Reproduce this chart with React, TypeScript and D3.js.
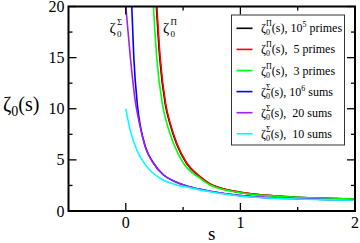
import React from "react";
import * as d3 from "d3";

// ---- data ----
// zeta_0^Pi(s), 10^5 primes (black, mostly hidden under red)
const blackS = [0.267, 0.296, 0.345, 0.386, 0.441, 0.529, 0.645, 0.733, 1.0, 1.29, 1.49, 1.73, 2.0];
const blackV = [20, 15.0, 10.4, 8.5, 6.63, 4.67, 3.36, 2.65, 1.82, 1.49, 1.35, 1.25, 1.18];

// zeta_0^Pi(s), 5 primes (red)
const redS = [0.271, 0.300, 0.349, 0.390, 0.445, 0.533, 0.649, 0.736, 1.0, 1.29, 1.49, 1.73, 2.0];
const redV = [20, 15.0, 10.4, 8.5, 6.63, 4.67, 3.36, 2.65, 1.82, 1.49, 1.35, 1.25, 1.18];

// zeta_0^Pi(s), 3 primes (green)
const greenS = [0.241, 0.270, 0.320, 0.360, 0.416, 0.503, 0.649, 0.736, 0.998, 1.289, 1.493, 1.726, 2.0];
const greenV = [20, 15.0, 10.4, 8.5, 6.63, 4.67, 3.20, 2.55, 1.79, 1.47, 1.34, 1.24, 1.17];

// zeta_0^Sigma(s), 10^6 sums (blue)
const blueS = [0.052, 0.070, 0.101, 0.128, 0.171, 0.243, 0.330, 0.432, 0.533, 0.649, 0.736, 1.0, 1.29, 1.49, 1.73, 2.0];
const blueV = [20, 15.0, 10.38, 8.25, 6.29, 4.67, 3.52, 2.87, 2.45, 2.12, 1.93, 1.50, 1.27, 1.19, 1.13, 1.07];

// zeta_0^Sigma(s), 20 sums (purple)
const purpleS = [0.0, 0.040, 0.081, 0.125, 0.169, 0.241, 0.328, 0.431, 0.533, 0.649, 0.736, 1.0, 1.29, 1.49, 1.73, 2.0];
const purpleV = [20, 15.0, 10.87, 8.25, 6.29, 4.67, 3.52, 2.87, 2.45, 2.12, 1.93, 1.50, 1.27, 1.19, 1.13, 1.07];

// zeta_0^Sigma(s), 10 sums (cyan)
const cyanS = [0.0, 0.038, 0.096, 0.183, 0.30, 0.445, 0.562, 0.649, 0.736, 0.998, 1.289, 1.493, 1.726, 2.0];
const cyanV = [10, 7.93, 5.97, 4.34, 3.20, 2.55, 2.28, 2.06, 1.89, 1.47, 1.24, 1.17, 1.11, 1.05];

const xMajor = [0, 1, 2];
const xMinor = [0.5, 1.5];
const yMajor = [0, 5, 10, 15, 20];
const yMinor = [2.5, 7.5, 12.5, 17.5];

const legendSym = ["\u03A0", "\u03A0", "\u03A0", "\u03A3", "\u03A3", "\u03A3"];
const legendCount = [" 10", "  5", "  3", " 10", "  20", "  10"];
const legendPow = ["5", "", "", "6", "", ""];
const legendUnit = ["primes", "primes", "primes", "sums", "sums", "sums"];
const legendColor = ["#000000", "#ff0000", "#00ff00", "#0000ff", "#a020f0", "#00ffff"];

const series = [
  { s: blackS, v: blackV, color: "#000000" },
  { s: redS, v: redV, color: "#ff0000" },
  { s: greenS, v: greenV, color: "#00ff00" },
  { s: blueS, v: blueV, color: "#0000ff" },
  { s: purpleS, v: purpleV, color: "#a020f0" },
  { s: cyanS, v: cyanV, color: "#00ffff" },
];

const W = 360;
const H = 243;
const margin = { top: 6.5, right: 5, bottom: 32, left: 68.5 };
const font = "Liberation Serif, Times New Roman, serif";

export default function App() {
  const x = d3.scaleLinear().domain([-0.5, 2]).range([margin.left, W - margin.right]);
  const y = d3.scaleLinear().domain([0, 20]).range([H - margin.bottom, margin.top]);
  const [x0, x1] = x.range();
  const [y0, y1] = y.range();

  const line = d3
    .line<[number, number]>()
    .x((d) => x(d[0]))
    .y((d) => y(d[1]))
    .curve(d3.curveMonotoneX);

  const legX = 231.5;
  const legY = 15;
  const rowH = 21.1;

  return (
    <svg
      width={W}
      height={H}
      style={{ position: "absolute", left: 0, top: 0, background: "#fff", fontFamily: font }}
    >
      <defs>
        <clipPath id="plot">
          <rect x={x0} y={y1} width={x1 - x0} height={y0 - y1} />
        </clipPath>
      </defs>

      {/* curves */}
      <g clipPath="url(#plot)" fill="none">
        {series.map((sr, i) => (
          <path
            key={i}
            d={line(sr.s.map((s, j) => [s, sr.v[j]] as [number, number])) || ""}
            stroke={sr.color}
            strokeWidth={1.6}
          />
        ))}
      </g>

      {/* ticks, all four sides, inward */}
      <g stroke="#000" strokeWidth={1.3}>
        {xMajor.map((t) => (
          <g key={"xm" + t}>
            <line x1={x(t)} x2={x(t)} y1={y0} y2={y0 - 8} />
            <line x1={x(t)} x2={x(t)} y1={y1} y2={y1 + 8} />
          </g>
        ))}
        {xMinor.map((t) => (
          <g key={"xn" + t}>
            <line x1={x(t)} x2={x(t)} y1={y0} y2={y0 - 4} />
            <line x1={x(t)} x2={x(t)} y1={y1} y2={y1 + 4} />
          </g>
        ))}
        {yMajor.map((t) => (
          <g key={"ym" + t}>
            <line x1={x0} x2={x0 + 8} y1={y(t)} y2={y(t)} />
            <line x1={x1} x2={x1 - 8} y1={y(t)} y2={y(t)} />
          </g>
        ))}
        {yMinor.map((t) => (
          <g key={"yn" + t}>
            <line x1={x0} x2={x0 + 4} y1={y(t)} y2={y(t)} />
            <line x1={x1} x2={x1 - 4} y1={y(t)} y2={y(t)} />
          </g>
        ))}
      </g>

      {/* frame */}
      <rect x={x0} y={y1} width={x1 - x0} height={y0 - y1} fill="none" stroke="#000" strokeWidth={2} />

      {/* tick labels */}
      <g fontSize={16} fill="#000">
        {xMajor.map((t) => (
          <text key={"xl" + t} x={x(t)} y={228} textAnchor="middle">
            {t}
          </text>
        ))}
        {yMajor.map((t) => (
          <text key={"yl" + t} x={64.5} y={y(t) + 5.5} textAnchor="end">
            {t}
          </text>
        ))}
      </g>

      {/* axis titles */}
      <text x={(x0 + x1) / 2} y={240} textAnchor="middle" fontSize={19}>
        s
      </text>
      <text x={3} y={111} fontSize={20}>
        {"\u03B6"}
        <tspan fontSize={14} dy={5}>0</tspan>
        <tspan dy={-5}>(s)</tspan>
      </text>

      {/* in-plot annotations */}
      {[
        { sx: 109.5, sym: "\u03A3" },
        { sx: 163, sym: "\u03A0" },
      ].map((a, i) => (
        <g key={"an" + i} fill="#000">
          <text x={a.sx} y={33} fontSize={15}>
            {"\u03B6"}
          </text>
          <text x={a.sx + 7.5} y={36.5} fontSize={9}>
            0
          </text>
          <text x={a.sx + 7.5} y={25} fontSize={9}>
            {a.sym}
          </text>
        </g>
      ))}

      {/* legend */}
      <rect x={legX} y={legY} width={113} height={130} fill="#fff" stroke="#333" strokeWidth={1} />
      {legendColor.map((c, i) => {
        const ry = 28.3 + i * rowH;
        return (
          <g key={"lg" + i} fill="#000">
            <line x1={236.5} x2={252.5} y1={ry} y2={ry} stroke={c} strokeWidth={1.6} />
            <text x={261} y={ry + 4} fontSize={12} xmlSpace="preserve" style={{ whiteSpace: "pre" }}>
              {"\u03B6"}
              <tspan fontSize={8} dy={3}>0</tspan>
              <tspan fontSize={8} dx={-4} dy={-9}>{legendSym[i]}</tspan>
              <tspan fontSize={12} dy={6}>{"(s)," + legendCount[i]}</tspan>
              {legendPow[i] ? (
                <>
                  <tspan fontSize={8} dy={-5}>{legendPow[i]}</tspan>
                  <tspan fontSize={12} dy={5}>{" " + legendUnit[i]}</tspan>
                </>
              ) : (
                <tspan fontSize={12}>{" " + legendUnit[i]}</tspan>
              )}
            </text>
          </g>
        );
      })}
    </svg>
  );
}
